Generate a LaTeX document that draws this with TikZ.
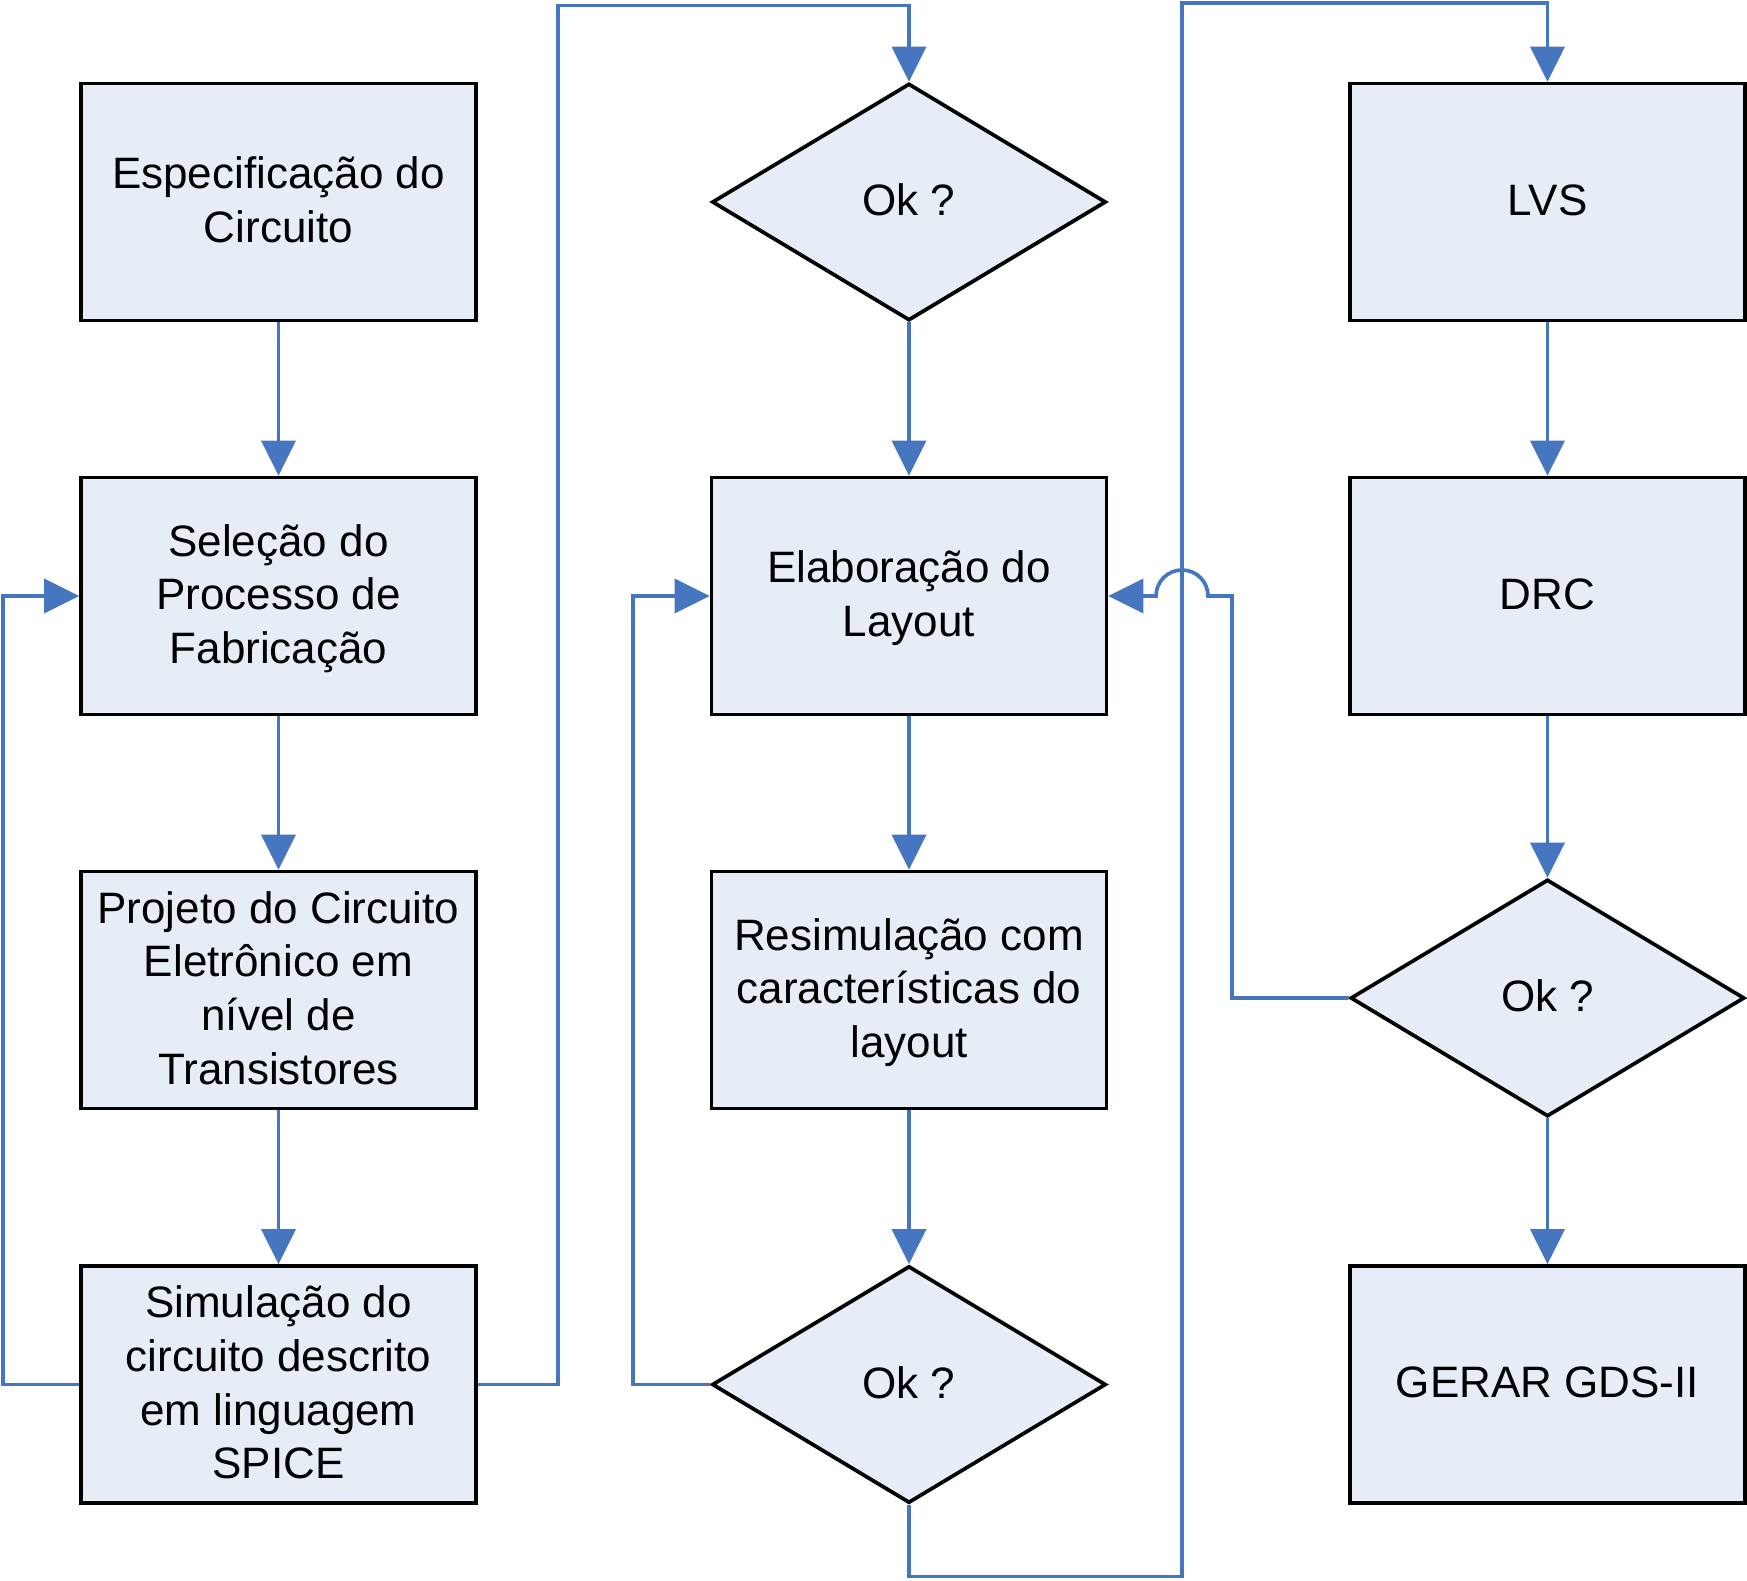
\documentclass[tikz,border=0pt]{standalone}
\usepackage{fontspec}
\setmainfont{Liberation Sans}
\usepackage{xcolor}
\usepackage{tikz}
\usetikzlibrary{arrows.meta}
\usetikzlibrary{shapes.geometric}

\definecolor{boxfill}{RGB}{231,237,247}
\definecolor{flowblue}{RGB}{71,118,192}

\begin{document}
\begin{tikzpicture}[x=1pt,y=-1pt,
	caixa/.style={draw=black,fill=boxfill,line width=3.7pt,minimum width=395pt,minimum height=237pt,inner sep=0pt,text depth=4.5pt,align=center,font=\fontsize{44}{53.7}\selectfont},
	decisao/.style={caixa,shape=diamond,minimum width=394pt,minimum height=237pt},
	fluxo/.style={draw=flowblue,line width=3.7pt,-{Triangle[length=35pt,width=34pt]}}]
	
	\useasboundingbox (0,0) rectangle (1747,1580);
	
	\node [caixa] (espec) at (278.5,202) {Especificação do\\Circuito};
	
	\node [caixa] (selecao) at (278.5,596) {Seleção do\\Processo de\\Fabricação};
	
	\node [caixa] (projeto) at (278.5,990) {Projeto do Circuito\\Eletrônico em\\nível de\\Transistores};
	
	\node [caixa] (simul) at (278.5,1384.5) {Simulação do\\circuito descrito\\em linguagem\\SPICE};
	
	\node [decisao] (ok1) at (909,202) {Ok ?};
	
	\node [caixa] (layout) at (909,596) {Elaboração do\\Layout};
	
	\node [caixa] (resimul) at (909,990) {Resimulação com\\características do\\layout};
	
	\node [decisao] (ok2) at (909,1384.5) {Ok ?};
	
	\node [caixa] (lvs) at (1547.5,202) {LVS};
	
	\node [caixa] (drc) at (1547.5,596) {DRC};
	
	\node [decisao] (ok3) at (1547.5,998) {Ok ?};
	
	\node [caixa] (gds) at (1547.5,1384.5) {GERAR GDS-II};
	
	\draw [fluxo] (espec) -- (selecao);
	\draw [fluxo] (selecao) -- (projeto);
	\draw [fluxo] (projeto) -- (simul);
	
	\coordinate (esq) at (3.3,596);
	\draw [fluxo] (simul.west) -| (esq) -- (selecao.west);
	
	\coordinate (topo1) at (558,5.6);
	\draw [fluxo] (simul.east) -| (topo1) -| (ok1.north);
	
	\draw [fluxo] (ok1) -- (layout);
	\draw [fluxo] (layout) -- (resimul);
	\draw [fluxo] (resimul) -- (ok2);
	
	\coordinate (meio) at (633,596);
	\draw [fluxo] (ok2.west) -| (meio) -- (layout.west);
	
	\coordinate (base) at (1182,1576.6);
	\coordinate (topo2) at (1182,3.3);
	\draw [fluxo] (ok2.south) |- (base) -- (topo2) -| (lvs.north);
	
	\draw [fluxo] (lvs) -- (drc);
	\draw [fluxo] (drc) -- (ok3);
	\draw [fluxo] (ok3) -- (gds);
	
	% retorno com salto sobre a linha vertical
	\coordinate (dir) at (1232,596);
	\coordinate (salto) at (1208,596);
	\draw [fluxo] (ok3.west) -| (dir) -- (salto) arc [start angle=0,end angle=180,radius=26pt] -- (layout.east);
	
\end{tikzpicture}
\end{document}
